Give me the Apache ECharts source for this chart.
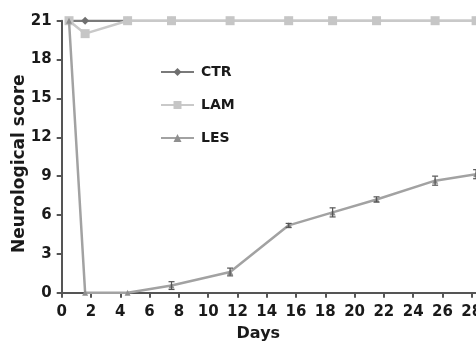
<!DOCTYPE html>
<html><head><meta charset="utf-8">
<script src="https://cdn.jsdelivr.net/npm/echarts@6/dist/echarts.min.js"></script>
<style>html,body{margin:0;padding:0;background:#fff}#c{width:476px;height:345px}</style>
</head><body><div id="c"></div>
<script>
const days = [0.5, 1.6, 4.5, 7.5, 11.5, 15.5, 18.5, 21.5, 25.5, 28.3];
const ctr = [21, 21, 21, 21, 21, 21, 21, 21, 21, 21];
const lam = [21, 20, 21, 21, 21, 21, 21, 21, 21, 21];
const les = [21, 0, 0, 0.55, 1.6, 5.2, 6.2, 7.2, 8.65, 9.15];
const lesErr = [0, 0, 0, 0.3, 0.3, 0.15, 0.35, 0.2, 0.35, 0.35];
const xTicks = [0,2,4,6,8,10,12,14,16,18,20,22,24,26,28,30];
const yTicks = [0,3,6,9,12,15,18,21];
const names = ['CTR','LAM','LES'];

const pair = (a) => days.map((d,i)=>[d,a[i]]);
const errData = days.map((d,i)=>[d, les[i], lesErr[i]]).filter(r=>r[2]>0);
const font = '"DejaVu Sans", Verdana, sans-serif';

const chart = echarts.init(document.getElementById('c'));
chart.setOption({
  animation:false,
  grid:{left:61.7, top:20.7, bottom:52.3, right:-25, containLabel:false, outerBoundsMode:'none'},
  legend:{
    orient:'vertical', left:155, top:60, itemGap:19, itemWidth:33, itemHeight:10,
    data:names,
    textStyle:{fontFamily:font, fontWeight:'bold', fontSize:14, color:'#1a1a1a', padding:[0,0,0,2]}
  },
  xAxis:{
    type:'value', min:0, max:30, interval:2,
    name:'Days', nameLocation:'middle', nameGap:33, nameMoveOverlap:false,
    nameTextStyle:{fontFamily:font, fontWeight:'bold', fontSize:16, color:'#1a1a1a', padding:[0,46,0,0]},
    axisLine:{lineStyle:{color:'#555', width:2}},
    axisTick:{show:true, length:5, lineStyle:{color:'#555', width:2}},
    axisLabel:{fontFamily:font, fontWeight:'bold', fontSize:15, color:'#1a1a1a', margin:12,
      formatter:(v)=>xTicks.includes(v)?String(v):''},
    splitLine:{show:false}
  },
  yAxis:{
    type:'value', min:0, max:21, interval:3,
    name:'Neurological score', nameLocation:'middle', nameGap:34, nameRotate:90, nameMoveOverlap:false,
    nameTextStyle:{fontFamily:font, fontWeight:'bold', fontSize:17, color:'#1a1a1a', padding:[0,14,0,0]},
    axisLine:{show:true, lineStyle:{color:'#555', width:2}},
    axisTick:{show:true, length:5, lineStyle:{color:'#555', width:2}},
    axisLabel:{fontFamily:font, fontWeight:'bold', fontSize:15, color:'#1a1a1a', margin:10,
      formatter:(v)=>yTicks.includes(v)?String(v):''},
    splitLine:{show:false}
  },
  series:[
    {name:'CTR', type:'line', data:pair(ctr), symbol:'diamond', symbolSize:8,
     lineStyle:{color:'#7a7a7a', width:2.5}, itemStyle:{color:'#6f6f6f'}, z:2},
    {name:'LAM', type:'line', data:pair(lam), symbol:'rect', symbolSize:9,
     lineStyle:{color:'#c9c9c9', width:2.5}, itemStyle:{color:'#c6c6c6'}, z:3},
    {name:'LES', type:'line', data:pair(les), symbol:'triangle', symbolSize:6,
     lineStyle:{color:'#a2a2a2', width:2.5}, itemStyle:{color:'#8f8f8f'}, z:4},
    {type:'custom', name:'err', data:errData, z:5, silent:true,
     renderItem:(params, api)=>{
       const x = api.value(0), y = api.value(1), e = api.value(2);
       const top = api.coord([x, y+e]), bot = api.coord([x, y-e]);
       const w = 3;
       const st = {stroke:'#555', lineWidth:1.2};
       return {type:'group', children:[
         {type:'line', shape:{x1:top[0],y1:top[1],x2:bot[0],y2:bot[1]}, style:st},
         {type:'line', shape:{x1:top[0]-w,y1:top[1],x2:top[0]+w,y2:top[1]}, style:st},
         {type:'line', shape:{x1:bot[0]-w,y1:bot[1],x2:bot[0]+w,y2:bot[1]}, style:st}
       ]};
     }}
  ]
});
</script></body></html>
